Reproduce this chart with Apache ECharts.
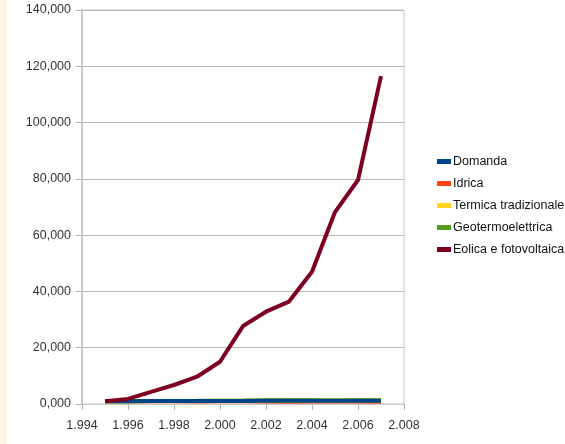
<!DOCTYPE html>
<html><head><meta charset="utf-8">
<script src="https://cdn.jsdelivr.net/npm/echarts@6/dist/echarts.min.js"></script>
<style>html,body{margin:0;padding:0;background:#fff}#strip{position:absolute;left:0;top:0;width:7px;height:444px;background:#fbf3e3}#c{position:absolute;left:0;top:0;width:565px;height:444px}</style>
</head><body><div id="strip"></div><div id="c"></div>
<script>
const years = [1995,1996,1997,1998,1999,2000,2001,2002,2003,2004,2005,2006,2007];
const domanda = [1000,1020,1040,1060,1080,1100,1110,1130,1150,1160,1170,1180,1170];
const idrica = [1000,1050,1020,990,930,950,970,880,840,910,860,880,830];
const termica = [1000,1010,1040,1070,1100,1150,1150,1180,1260,1280,1300,1350,1350];
const geotermo = [1000,1010,1050,1090,1130,1190,1200,1290,1300,1290,1280,1300,1300];
const eolica = [1000,1800,4300,6750,9700,15000,27700,32800,36400,47000,68200,79600,116500];
const names = ['Domanda','Idrica','Termica tradizionale','Geotermoelettrica','Eolica e fotovoltaica'];
const colors = ['#004586','#ff420e','#ffd320','#579d1c','#7e0021'];
const values = [domanda, idrica, termica, geotermo, eolica];
const zs = [6, 2, 3, 4, 7];
const chart = echarts.init(document.getElementById('c'), null, {renderer:'canvas'});
const font = 'Liberation Sans, Arial, sans-serif';
chart.setOption({
  animation:false,
  grid:{left:82,right:161,top:10,bottom:40,show:true,borderColor:'#c8c8c8',borderWidth:1,backgroundColor:'transparent'},
  legend:{orient:'vertical',left:432,top:150,itemWidth:14,itemHeight:5,itemGap:9,icon:'rect',
    textStyle:{fontFamily:font,fontSize:12.5,color:'#111',padding:[0,0,0,-3]},
    data:names},
  xAxis:{type:'value',min:1994,max:2008,interval:2,
    axisLine:{show:true,onZero:false,lineStyle:{color:'#c8c8c8',width:1}},
    axisTick:{show:true,inside:false,length:6,lineStyle:{color:'#b3b3b3'}},
    splitLine:{show:false},
    axisLabel:{fontFamily:font,fontSize:12.5,color:'#333',margin:15,formatter:v=>(v/1000).toFixed(3)}},
  yAxis:{type:'value',min:0,max:140000,interval:20000,
    axisLine:{show:true,lineStyle:{color:'#c8c8c8',width:2}},
    axisTick:{show:true,inside:false,length:6,lineStyle:{color:'#b3b3b3'}},
    splitLine:{show:true,lineStyle:{color:'#b8b8b8'}},
    axisLabel:{fontFamily:font,fontSize:12.5,color:'#333',margin:11,formatter:v=>Math.floor(v/1000)+',000'}},
  series: names.map((n,i)=>({name:n,type:'line',z:zs[i],showSymbol:false,symbol:'none',
    color:colors[i],lineStyle:{width:4,color:colors[i]},
    data: years.map((y,j)=>[y, values[i][j]])}))
});
</script></body></html>
